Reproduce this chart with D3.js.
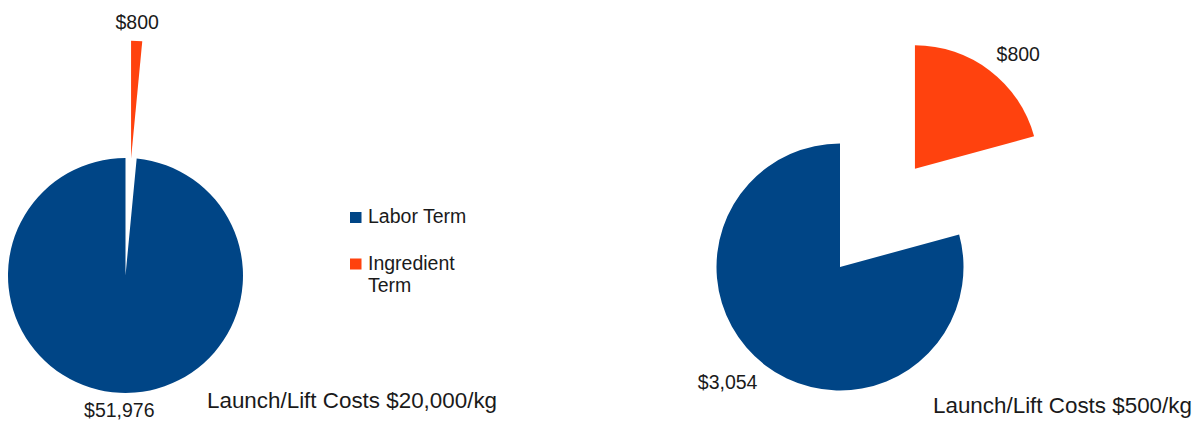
<!DOCTYPE html>
<html>
<head>
<meta charset="utf-8">
<script src="https://cdn.jsdelivr.net/npm/d3@7"></script>
<style>
  body { margin: 0; background: #fff; }
  text { font-family: "Liberation Sans", Arial, sans-serif; fill: #1a1a1a; }
</style>
</head>
<body>
<div id="chart"></div>
<script>
// Data
const categories = ["Labor Term", "Ingredient Term"];
const chartTitles = ["Launch/Lift Costs $20,000/kg", "Launch/Lift Costs $500/kg"];
const laborValues = [51976, 3054];
const ingredientValues = [800, 800];
const colors = ["#004586", "#ff420e"];

const width = 1202, height = 421;

const svg = d3.select("#chart").append("svg")
    .attr("width", width)
    .attr("height", height);

svg.append("rect").attr("width", width).attr("height", height).attr("fill", "#fff");

// Layout of the two pies
const pies = [
    { cx: 125.5, cy: 275.5, r: 117.5, titleX: 207, titleY: 408 },
    { cx: 840, cy: 267, r: 123.5, titleX: 933, titleY: 413 }
];

const fmt = d3.format("$,");
const labelFont = 19.5, capH = labelFont * 0.716;

pies.forEach((p, i) => {
    // ingredient first so it starts at 12 o'clock and runs clockwise
    const rows = [
        { key: categories[1], value: ingredientValues[i], color: colors[1], explode: true },
        { key: categories[0], value: laborValues[i], color: colors[0], explode: false }
    ];

    const pie = d3.pie().sort(null).value(d => d.value);
    const arc = d3.arc().innerRadius(0).outerRadius(p.r);
    const arcs = pie(rows);

    const g = svg.append("g").attr("transform", `translate(${p.cx},${p.cy})`);

    arcs.forEach(a => {
        const mid = (a.startAngle + a.endAngle) / 2;
        const dx = Math.sin(mid), dy = -Math.cos(mid);
        const off = a.data.explode ? p.r : 0;
        const ox = dx * off, oy = dy * off;

        g.append("path")
            .attr("d", arc(a))
            .attr("transform", `translate(${ox},${oy})`)
            .attr("fill", a.data.color);

        // label: corner of the text box nearest the centre sits on the ray
        const dist = p.r + (dy > 0 ? 12.5 : 11);
        const px = ox + dx * dist, py = oy + dy * dist;
        let anchor = "middle";
        if (dx > 0.2) anchor = "start";
        else if (dx < -0.2) anchor = "end";
        let baseline;
        if (dy < -0.2) baseline = py - 1;            // above: box bottom on point
        else if (dy > 0.2) baseline = py + capH;     // below: box top on point
        else baseline = py + capH / 2;

        g.append("text")
            .attr("x", px)
            .attr("y", Math.min(baseline, height - 4 - p.cy))
            .attr("text-anchor", anchor)
            .style("font-size", labelFont + "px")
            .text(fmt(a.data.value));
    });

    svg.append("text")
        .attr("x", p.titleX)
        .attr("y", p.titleY)
        .style("font-size", "22.4px")
        .text(chartTitles[i]);
});

// Legend
const legend = svg.append("g").attr("transform", "translate(350,212)");
const legendLines = [["Labor Term"], ["Ingredient", "Term"]];
[0, 1].forEach(i => {
    const y = i * 46.5;
    legend.append("rect")
        .attr("x", 0).attr("y", y)
        .attr("width", 11.5).attr("height", 11)
        .attr("fill", colors[i]);
    const t = legend.append("text")
        .attr("x", 18).attr("y", y + 11)
        .style("font-size", "19.5px");
    legendLines[i].forEach((line, j) => {
        t.append("tspan").attr("x", 18).attr("dy", j === 0 ? 0 : 22.5).text(line);
    });
});
</script>
</body>
</html>
